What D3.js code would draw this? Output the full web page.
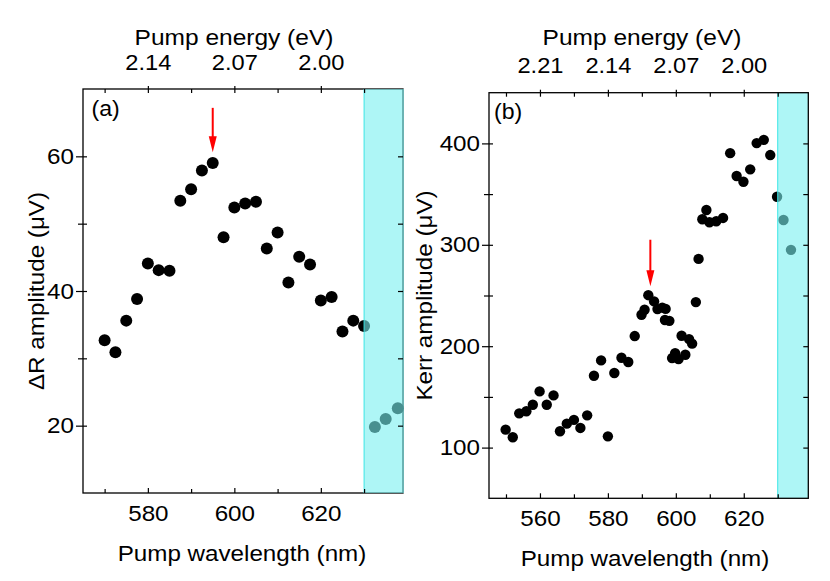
<!DOCTYPE html>
<html><head><meta charset="utf-8">
<script src="https://cdn.jsdelivr.net/npm/d3@7"></script>
<style>
body{margin:0;background:#fff}
svg{display:block}
text{font-family:"Liberation Sans",Arial,Helvetica,sans-serif;fill:#000}
</style>
</head><body>
<svg id="c" width="830" height="581"></svg>
<script>
// ---------- DATA ----------
// Panel (a): ΔR amplitude vs pump wavelength
const wavelengthA = [570,572.5,575,577.5,580,582.5,585,587.5,590,592.5,595,597.5,600,602.5,605,607.5,610,612.5,615,617.5,620,622.5,625,627.5,630,632.5,635,637.8];
const deltaR_A    = [32.7,30.9,35.6,38.8,44.1,43.1,43.0,53.4,55.1,57.9,59.0,48.0,52.4,53.0,53.25,46.3,48.7,41.25,45.1,43.95,38.6,39.1,34.0,35.6,34.8,19.8,21.0,22.6];

// Panel (b): Kerr amplitude vs pump wavelength
const wavelengthB = [549.9,552.0,553.9,556.0,557.9,559.9,562.0,564.0,565.9,567.9,570.0,571.9,573.9,575.9,578.0,580.0,581.9,584.0,586.0,587.9,
                     589.9,590.8,591.9,593.6,594.6,596.0,597.0,596.8,598.1,598.9,599.8,600.8,601.7,602.8,603.9,604.8,605.9,606.7,607.8,609.0,
                     609.9,611.9,613.9,616.0,617.9,619.9,621.9,623.8,625.9,627.8,629.8,631.7,633.9];
const kerrB       = [117.7,110.2,133.8,135.8,142.3,155.4,142.3,151.5,116.1,123.6,127.3,119.4,131.8,170.9,186.0,111.1,173.6,188.6,184.4,210.0,
                     231.0,235.9,250.3,244.2,236.6,238.0,236.8,225.8,225.0,188.3,193.2,187.3,210.3,191.6,207.0,202.5,243.5,286.1,325.2,334.3,
                     322.2,323.2,326.5,390.4,367.8,362.2,374.4,400.3,403.5,388.5,347.4,324.5,295.0];

// Axis ticks and labels
const xMajorA = [580,600,620];
const xMinorA = [570,590,610,630];
const energyLabelsA = ["2.14","2.07","2.00"];
const yMajorA = [20,40,60];
const yMinorA = [30,50];

const xMajorB = [560,580,600,620];
const xMinorB = [550,570,590,610,630];
const energyLabelsB = ["2.21","2.14","2.07","2.00"];
const yMajorB = [100,200,300,400];
const yMinorB = [150,250,350];

const shadeStart = 630;            // nm, shaded region start
const arrowA = [595, 67.2, 60.6];  // [wavelength, tail value, tip value]
const arrowB = [592.5, 305, 259];

// ---------- LAYOUT ----------
const svg = d3.select("#c");
const SX = 1.1; // horizontal text stretch

const panels = [
  {wl: wavelengthA, val: deltaR_A, xDom:[565,639], yDom:[10,70], left:83, right:403, top:89, bottom:493,
   xMaj:xMajorA, xMin:xMinorA, eLab:energyLabelsA, yMaj:yMajorA, yMin:yMinorA, r:6,
   label:"(a)", labX:91.5, labY:116, yTitle:"ΔR amplitude (μV)", yTitleX:43.5, yTitleS:1.1,
   topTitleX:234, botTitleX:242,
   arrow: arrowA, shadeOverFrame:true},
  {wl: wavelengthB, val: kerrB, xDom:[545,639], yDom:[50,450], left:489, right:808.3, top:92.7, bottom:498.3,
   xMaj:xMajorB, xMin:xMinorB, eLab:energyLabelsB, yMaj:yMajorB, yMin:yMinorB, r:5.2,
   label:"(b)", labX:494, labY:119, yTitle:"Kerr amplitude (μV)", yTitleX:432, yTitleS:1.1,
   topTitleX:642, botTitleX:645,
   arrow: arrowB, shadeOverFrame:false}
];

function styleAxis(g){
  g.select(".domain").remove();
  g.selectAll(".tick line").attr("stroke","#000").attr("stroke-width",1.2);
  g.selectAll(".tick text").attr("font-size",22).attr("font-family","Liberation Sans, Arial, sans-serif").attr("fill","#000");
}

panels.forEach(p => {
  const g = svg.append("g");
  const x = d3.scaleLinear().domain(p.xDom).range([p.left,p.right]);
  const y = d3.scaleLinear().domain(p.yDom).range([p.bottom,p.top]);
  const W = p.right - p.left, H = p.bottom - p.top;

  // points
  g.append("g").selectAll("circle").data(p.wl.map((w,i)=>[w,p.val[i]])).join("circle")
    .attr("cx",d=>x(d[0])).attr("cy",d=>y(d[1])).attr("r",p.r).attr("fill","#000");

  const drawFrame = () => g.append("rect").attr("x",p.left).attr("y",p.top).attr("width",W).attr("height",H)
      .attr("fill","none").attr("stroke","#000").attr("stroke-width",1.3);
  const drawShade = () => {
    g.append("rect").attr("x",x(shadeStart)).attr("y",p.top).attr("width",p.right - x(shadeStart) + (p.shadeOverFrame?1:0)).attr("height",H)
      .attr("fill","rgb(120,240,240)").attr("fill-opacity",0.6);
    g.append("line").attr("x1",x(shadeStart)).attr("x2",x(shadeStart)).attr("y1",p.top).attr("y2",p.bottom)
      .attr("stroke","rgb(60,230,230)").attr("stroke-width",1);
  };
  if (p.shadeOverFrame){ drawFrame(); drawShade(); } else { drawShade(); drawFrame(); }

  // bottom axis
  const gb = g.append("g").attr("transform",`translate(0,${p.bottom})`)
    .call(d3.axisBottom(x).tickValues(p.xMaj).tickSizeInner(-5).tickSizeOuter(0).tickPadding(12.4).tickFormat(d3.format("d")));
  styleAxis(gb); gb.selectAll(".tick text").attr("transform",`scale(${SX},1)`);
  const gbm = g.append("g").attr("transform",`translate(0,${p.bottom})`)
    .call(d3.axisBottom(x).tickValues(p.xMin).tickSizeInner(-4).tickSizeOuter(0).tickFormat(""));
  styleAxis(gbm);

  // top axis (energy labels)
  const gt = g.append("g").attr("transform",`translate(0,${p.top})`)
    .call(d3.axisTop(x).tickValues(p.xMaj).tickSizeInner(3).tickSizeOuter(0).tickPadding(16.5).tickFormat((d,i)=>p.eLab[i]));
  styleAxis(gt); gt.selectAll(".tick text").attr("font-size",21.5).attr("transform",`scale(${SX},1)`);
  const gti = g.append("g").attr("transform",`translate(0,${p.top})`)
    .call(d3.axisTop(x).tickValues(p.xMaj.concat(p.xMin)).tickSizeInner(-4).tickSizeOuter(0).tickFormat(""));
  styleAxis(gti);

  // left axis
  const gl = g.append("g").attr("transform",`translate(${p.left},0)`)
    .call(d3.axisLeft(y).tickValues(p.yMaj).tickSizeInner(7).tickSizeOuter(0).tickPadding(2).tickFormat(d3.format("d")));
  styleAxis(gl); gl.selectAll(".tick text").attr("x",-9/SX).attr("transform",`scale(${SX},1)`);
  const glm = g.append("g").attr("transform",`translate(${p.left},0)`)
    .call(d3.axisLeft(y).tickValues(p.yMin).tickSizeInner(5).tickSizeOuter(0).tickFormat(""));
  styleAxis(glm);
  const gli = g.append("g").attr("transform",`translate(${p.left},0)`)
    .call(d3.axisLeft(y).tickValues(p.yMaj.concat(p.yMin)).tickSizeInner(-4).tickSizeOuter(0).tickFormat(""));
  styleAxis(gli);

  // right axis (mirror, inward)
  const gr = g.append("g").attr("transform",`translate(${p.right},0)`)
    .call(d3.axisRight(y).tickValues(p.yMaj.concat(p.yMin)).tickSizeInner(-5).tickSizeOuter(0).tickFormat(""));
  styleAxis(gr);

  // titles
  const cy = (p.top+p.bottom)/2;
  g.append("text").attr("text-anchor","middle").attr("font-size",21.5)
    .attr("transform",`translate(${p.topTitleX},45) scale(1.14,1)`).text("Pump energy (eV)");
  g.append("text").attr("text-anchor","middle").attr("font-size",22)
    .attr("transform",`translate(${p.botTitleX},${p.bottom+68}) scale(${SX},1)`).text("Pump wavelength (nm)");
  g.append("text").attr("text-anchor","middle").attr("font-size",22)
    .attr("transform",`translate(${p.yTitleX},${cy}) rotate(-90) scale(${p.yTitleS},1)`).text(p.yTitle);
  g.append("text").attr("font-size",22).attr("transform",`translate(${p.labX},${p.labY}) scale(1.05,1)`).text(p.label);

  // red arrow
  const ax = x(p.arrow[0]), ay0 = y(p.arrow[1]), ay1 = y(p.arrow[2]);
  g.append("line").attr("x1",ax).attr("x2",ax).attr("y1",ay0).attr("y2",ay1-14)
    .attr("stroke","#ff0000").attr("stroke-width",2);
  g.append("path").attr("d",`M${ax-4},${ay1-16} L${ax+4},${ay1-16} L${ax},${ay1} Z`).attr("fill","#ff0000");
});
</script>
</body></html>
